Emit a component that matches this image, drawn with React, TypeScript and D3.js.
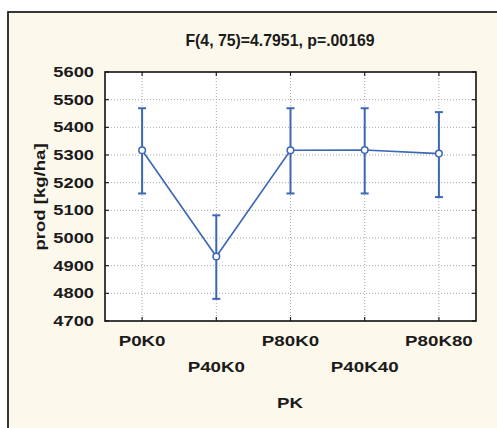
import React from "react";
import * as d3 from "d3";

// group means and 95% CI bounds
const categories = ["P0K0", "P40K0", "P80K0", "P40K40", "P80K80"];
const means = [5317, 4933, 5317, 5318, 5305];
const upper = [5469, 5082, 5469, 5469, 5455];
const lower = [5161, 4780, 5161, 5161, 5148];
const yTicks = [4700, 4800, 4900, 5000, 5100, 5200, 5300, 5400, 5500, 5600];

const title = "F(4, 75)=4.7951, p=.00169";
const xTitle = "PK";
const yTitle = "prod [kg/ha]";

const W = 497;
const H = 428;
const plot = { left: 105, top: 72, right: 476, bottom: 321 };
const blue = "#3b67b5";
const ink = "#1b1b1b";
const font = "'Liberation Sans', Arial, sans-serif";

const Wide = ({ x, y, children, anchor = "middle", size = 15, sx = 1.25, rotate = 0 }) => (
    <text
        transform={`translate(${x},${y}) rotate(${rotate}) scale(${sx},1)`}
        textAnchor={anchor}
        dominantBaseline="central"
        fontFamily={font}
        fontWeight="bold"
        fontSize={size}
        fill={ink}
    >
        {children}
    </text>
);

export default function App() {
    const x = d3
        .scalePoint()
        .domain(categories)
        .range([plot.left, plot.right])
        .padding(0.5);

    const y = d3
        .scaleLinear()
        .domain([4700, 5600])
        .range([plot.bottom, plot.top]);

    const line = d3
        .line<number>()
        .x((d, i) => x(categories[i]))
        .y(d => y(d));

    const tick = 4;

    return (
        <div style={{ position: "fixed", left: 0, top: 0 }}>
            <svg width={W} height={H} viewBox={`0 0 ${W} ${H}`} style={{ display: "block" }}>
                <rect x={0} y={0} width={W} height={H} fill="#fff" />
                <rect x={8} y={12} width={W + 10} height={H + 10} fill="#fdf8ec" stroke="#222" strokeWidth={1.8} />

                <rect
                    x={plot.left}
                    y={plot.top}
                    width={plot.right - plot.left}
                    height={plot.bottom - plot.top}
                    fill="#fff"
                />

                {/* grid */}
                {yTicks.slice(1, -1).map(t => (
                    <line
                        key={"gy" + t}
                        x1={plot.left}
                        x2={plot.right}
                        y1={y(t)}
                        y2={y(t)}
                        stroke="#a8a8a8"
                        strokeWidth={1}
                        strokeDasharray="1,2"
                    />
                ))}
                {categories.map(c => (
                    <line
                        key={"gx" + c}
                        x1={x(c)}
                        x2={x(c)}
                        y1={plot.top}
                        y2={plot.bottom}
                        stroke="#a8a8a8"
                        strokeWidth={1}
                        strokeDasharray="1,2"
                    />
                ))}

                {/* inward ticks on all four sides */}
                {yTicks.map(t => (
                    <g key={"ty" + t} stroke="#222" strokeWidth={1.2}>
                        <line x1={plot.left} x2={plot.left + tick} y1={y(t)} y2={y(t)} />
                        <line x1={plot.right - tick} x2={plot.right} y1={y(t)} y2={y(t)} />
                    </g>
                ))}
                {categories.map(c => (
                    <g key={"tx" + c} stroke="#222" strokeWidth={1.2}>
                        <line x1={x(c)} x2={x(c)} y1={plot.bottom} y2={plot.bottom - tick} />
                        <line x1={x(c)} x2={x(c)} y1={plot.top} y2={plot.top + tick} />
                    </g>
                ))}

                <rect
                    x={plot.left}
                    y={plot.top}
                    width={plot.right - plot.left}
                    height={plot.bottom - plot.top}
                    fill="none"
                    stroke="#111"
                    strokeWidth={1.6}
                />

                {/* error bars */}
                {categories.map((c, i) => (
                    <g key={"eb" + c} stroke={blue} strokeWidth={2}>
                        <line x1={x(c)} x2={x(c)} y1={y(upper[i])} y2={y(lower[i])} />
                        <line x1={x(c) - 4} x2={x(c) + 4} y1={y(upper[i])} y2={y(upper[i])} />
                        <line x1={x(c) - 4} x2={x(c) + 4} y1={y(lower[i])} y2={y(lower[i])} />
                    </g>
                ))}

                <path d={line(means)} fill="none" stroke={blue} strokeWidth={1.6} />

                {categories.map((c, i) => (
                    <circle
                        key={"m" + c}
                        cx={x(c)}
                        cy={y(means[i])}
                        r={3.3}
                        fill="#fff"
                        stroke={blue}
                        strokeWidth={1.5}
                    />
                ))}

                {/* labels */}
                <Wide x={280} y={40} size={16} sx={0.99}>{title}</Wide>

                {yTicks.map(t => (
                    <Wide key={"ly" + t} x={94} y={y(t)} anchor="end" sx={1.22}>
                        {t}
                    </Wide>
                ))}

                {categories.map((c, i) => (
                    <Wide key={"lx" + c} x={x(c)} y={i % 2 === 0 ? 341 : 367}>
                        {c}
                    </Wide>
                ))}

                <Wide x={290} y={403}>{xTitle}</Wide>
                <Wide x={40} y={197} rotate={-90} sx={1.28} size={14.5}>
                    {yTitle}
                </Wide>
            </svg>
        </div>
    );
}
